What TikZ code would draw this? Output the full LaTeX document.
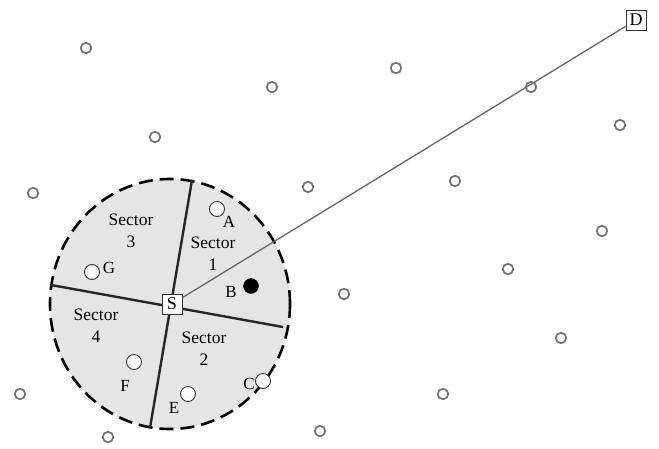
\documentclass[tikz,border=0pt]{standalone}
\usepackage{fontspec}
\setmainfont{Liberation Serif}
\begin{document}
\begin{tikzpicture}[x=1pt,y=-1pt,
  dot/.style={circle,draw=black!55,line width=1.7pt,minimum size=10.5pt,inner sep=0pt},
  wdot/.style={circle,draw=black!80,fill=white,line width=0.9pt,minimum size=15pt,inner sep=0pt},
  bdot/.style={circle,draw=black,fill=black,minimum size=15pt,inner sep=0pt},
  lbl/.style={font=\fontsize{17}{19}\selectfont,inner sep=0pt},
  sec/.style={font=\fontsize{17.5}{22}\selectfont,align=center,inner sep=0pt},
  sbox/.style={draw=black!80,fill=white,line width=1pt,minimum size=20pt,inner sep=0pt,font=\fontsize{18}{19}\selectfont},
  divider/.style={line width=2.4pt,black!85}]
\useasboundingbox (0,0) rectangle (659,448);
% region
\draw[fill=black!10,line width=2.6pt,dash pattern=on 14pt off 7pt] (170,304) ellipse [x radius=120,y radius=125];
% dividers
\coordinate (t) at (192,180);
\coordinate (b) at (150,428);
\coordinate (l) at (51,285);
\coordinate (r) at (283,327);
\draw[divider] (t) -- (b);
\draw[divider] (l) -- (r);
% nodes
\node[sbox] (S) at (172,304) {S};
\node[sbox] (D) at (636,20) {D};
\draw[black!60,line width=1.3pt] (S) -- (D);
% sector labels
\node[sec] (s3) at (131,231) {Sector\\3};
\node[sec] (s1) at (213,254) {Sector\\1};
\node[sec] (s4) at (96,326) {Sector\\4};
\node[sec] (s2) at (204,349) {Sector\\2};
% inner nodes
\node[wdot] (A) at (217,209) {};
\node[lbl] (Al) at (229,222) {A};
\node[wdot] (G) at (92,272) {};
\node[lbl] (Gl) at (109,268) {G};
\node[bdot] (B) at (251,286) {};
\node[lbl] (Bl) at (231,292) {B};
\node[wdot] (F) at (134,362) {};
\node[lbl] (Fl) at (125,386) {F};
\node[wdot] (E) at (188,394) {};
\node[lbl] (El) at (174,408) {E};
\node[wdot] (C) at (263,381) {};
\node[lbl] (Cl) at (249,384) {C};
% outer nodes
\foreach \i/\x/\y in {1/86/48,2/272/87,3/396/68,4/531/87,5/620/125,6/155/137,7/33/193,8/308/187,9/455/181,10/602/231,11/508/269,12/344/294,13/561/338,14/20/394,15/443/394,16/108/437,17/320/431}
  \node[dot] (n\i) at (\x,\y) {};
\end{tikzpicture}
\end{document}
